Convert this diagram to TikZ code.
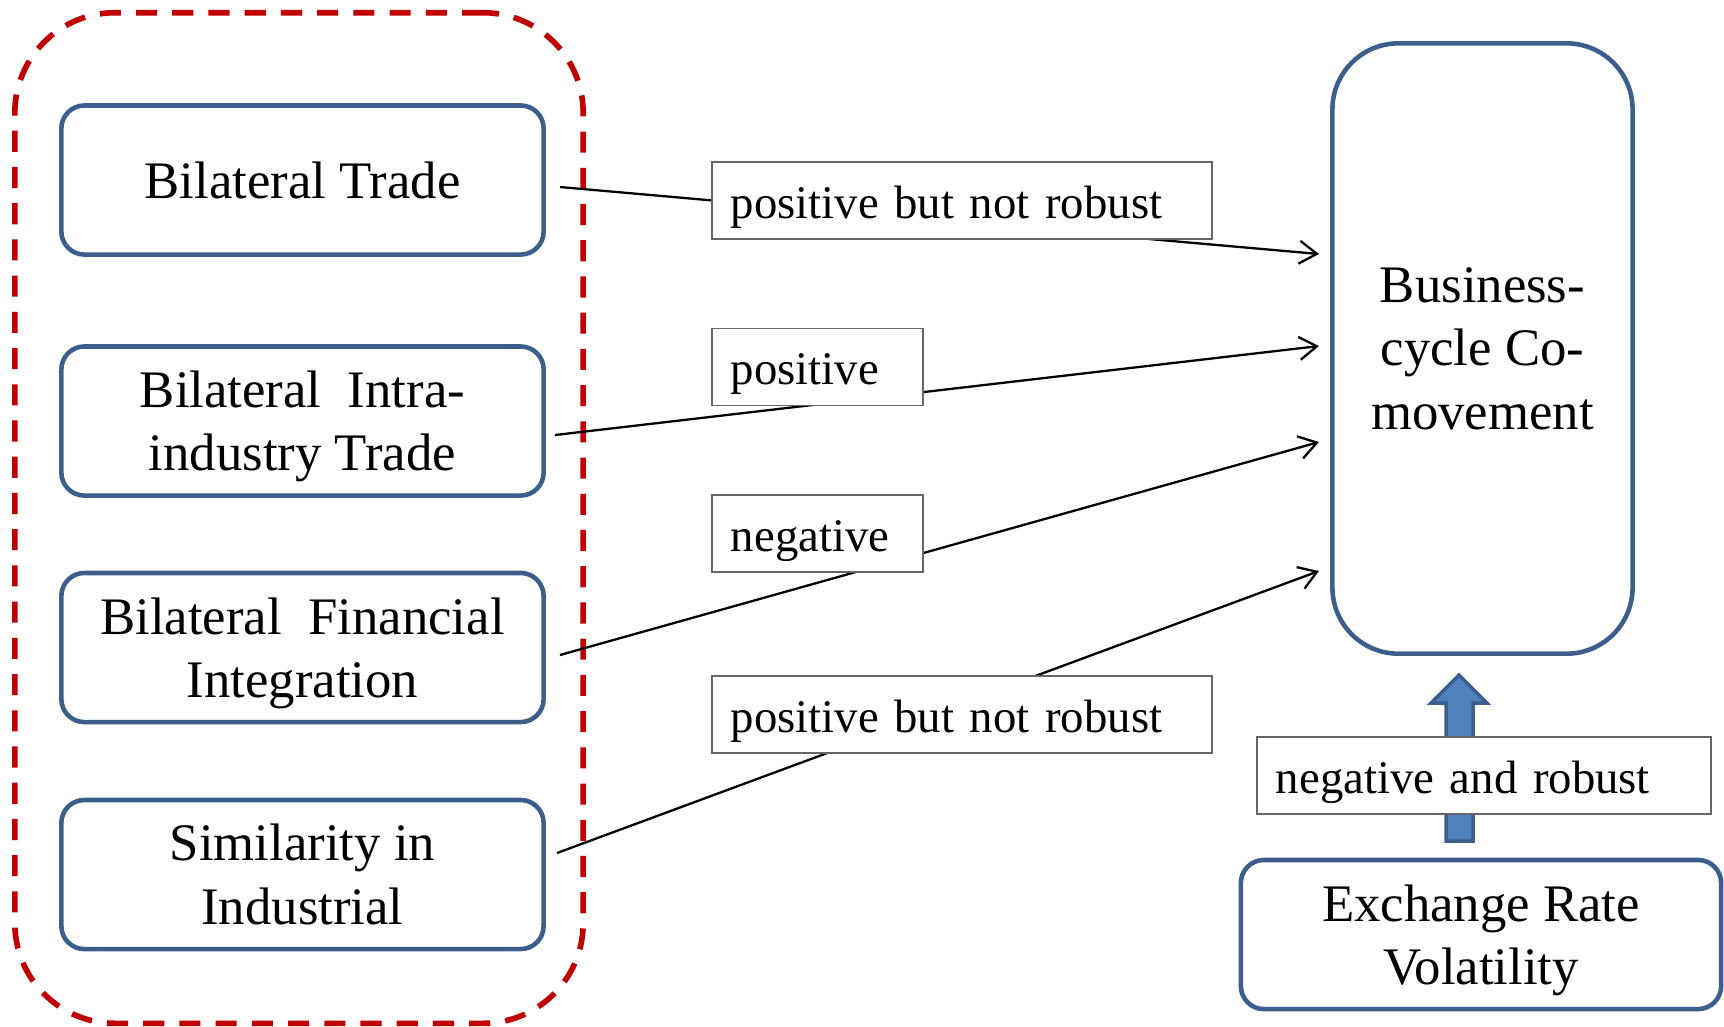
\documentclass[tikz,border=0pt]{standalone}
\usepackage{fontspec}
\setmainfont{Liberation Serif}
\usetikzlibrary{arrows.meta}
\definecolor{boxblue}{HTML}{3B5E8C}
\definecolor{fillblue}{HTML}{4F81BD}
\definecolor{dred}{HTML}{C00000}
\begin{document}
\begin{tikzpicture}[x=0.01cm,y=-0.01cm,
  factor/.style={draw=boxblue, line width=1.3pt, rounded corners=0.23cm,
    minimum width=4.82cm, minimum height=1.49cm, inner sep=0pt, align=center,
    font=\fontsize{15}{18}\selectfont},
  lbl/.style={draw=black!60, line width=0.5pt, fill=white, anchor=west,
    inner xsep=0.19cm, inner ysep=0pt, text height=0.56cm, text depth=0.21cm,
    align=left, font=\fontsize{13.3}{16}\selectfont},
  conn/.style={line width=0.65pt, -{Straight Barb[length=5pt,width=6.5pt]}},
  grpbox/.style={draw=dred, line width=1.6pt, dash pattern=on 6pt off 4.3pt,
    rounded corners=1cm, minimum width=5.68cm, minimum height=10.1cm, inner sep=0pt},
  blockarrow/.style={draw=boxblue, line width=1pt, fill=fillblue}
]
\useasboundingbox (0,0) rectangle (1724,1026);

% group frame
\node[grpbox] (grp) at (299,518) {};

% factor boxes
\node[factor] (bt) at (302.5,180) {Bilateral Trade};
\node[factor] (bi) at (302.5,421) {Bilateral\ \ Intra-\\\smash{industry Trade}};
\node[factor] (bf) at (302.5,647.5) {Bilateral\ \ Financial\\\smash{Integration}};
\node[factor] (si) at (302.5,874.5) {Similarity in\\Industrial};

% target boxes
\node[factor, rounded corners=0.66cm, minimum width=3.0cm, minimum height=6.1cm] (bc)
  at (1482.5,348.5) {Business-\\cycle Co-\\movement};
\node[factor, minimum width=4.8cm, minimum height=1.49cm] (ex) at (1481,934.5)
  {Exchange Rate\\\smash{Volatility}};

% connector end points
\coordinate (s1) at (560,187);  \coordinate (e1) at (1319,254);
\coordinate (s2) at (555,435);  \coordinate (e2) at (1319,346);
\coordinate (s3) at (560,655);  \coordinate (e3) at (1319,442);
\coordinate (s4) at (557,853);  \coordinate (e4) at (1319,571);

\draw[conn] (s1) -- (e1);
\draw[conn] (s2) -- (e2);
\draw[conn] (s3) -- (e3);
\draw[conn] (s4) -- (e4);

% block arrow from exchange rate box to business-cycle box
\draw[blockarrow] (1446,841) -- (1473,841) -- (1473,703) -- (1487,703)
  -- (1459,675) -- (1431,703) -- (1446,703) -- cycle;

% labels
\node[lbl, text width=4.62cm] (l1) at (711,200.5) {positive but not robust};
\node[lbl, text width=1.73cm] (l2) at (711,367) {positive};
\node[lbl, text width=1.73cm] (l3) at (711,533.5) {negative};
\node[lbl, text width=4.62cm] (l4) at (711,714.5) {positive but not robust};
\node[lbl, text width=4.16cm] (l5) at (1256,775.5) {negative and robust};
\end{tikzpicture}
\end{document}
